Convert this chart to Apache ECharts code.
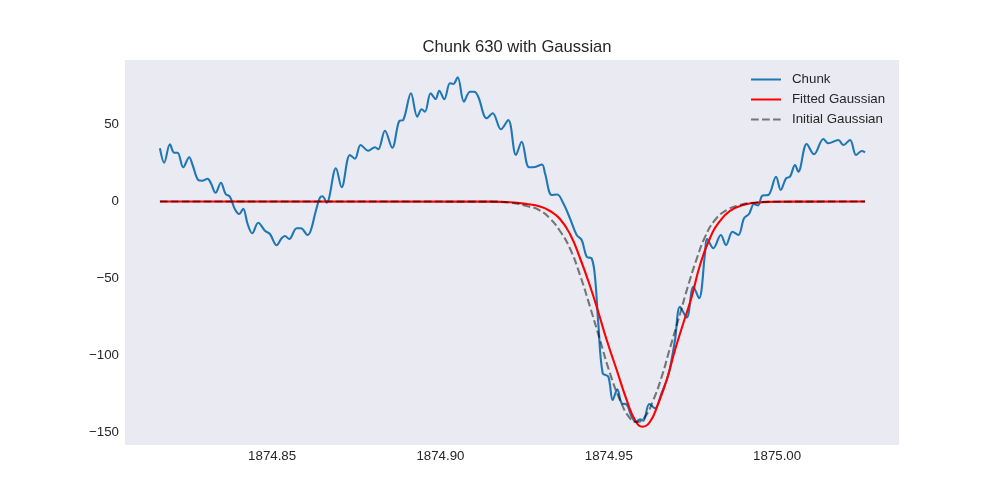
<!DOCTYPE html>
<html>
<head>
<meta charset="utf-8">
<script src="https://cdn.jsdelivr.net/npm/echarts@6/dist/echarts.min.js"></script>
<style>
  html, body { margin: 0; padding: 0; background: #fff; }
  #main { width: 1000px; height: 500px; }
</style>
</head>
<body>
<div id="main"></div>
<script>
// chunk 630
var chunkX = [
  1874.81667, 1874.81794, 1874.81964, 1874.82091, 1874.82192, 1874.82359, 1874.82537, 1874.82638,
  1874.82804, 1874.82923, 1874.83084, 1874.83182, 1874.83321, 1874.83479, 1874.83619, 1874.83746,
  1874.83895, 1874.84023, 1874.84141, 1874.84272, 1874.84409, 1874.84587, 1874.84786, 1874.84935,
  1874.85134, 1874.85282, 1874.85380, 1874.85508, 1874.85728, 1874.85856, 1874.86055, 1874.86153,
  1874.86292, 1874.86420, 1874.86494, 1874.86619, 1874.86895, 1874.87065, 1874.87311, 1874.87460,
  1874.87629, 1874.87855, 1874.88054, 1874.88152, 1874.88351, 1874.88568, 1874.88776, 1874.88895,
  1874.89124, 1874.89311, 1874.89442, 1874.89540, 1874.89709, 1874.89857, 1874.89964, 1874.90113,
  1874.90282, 1874.90380, 1874.90511, 1874.90698, 1874.90876, 1874.91004, 1874.91123, 1874.91373,
  1874.91551, 1874.91797, 1874.92014, 1874.92243, 1874.92412, 1874.92629, 1874.92808, 1874.93016,
  1874.93105, 1874.93304, 1874.93470, 1874.93648, 1874.93847, 1874.94046, 1874.94195, 1874.94344,
  1874.94492, 1874.94590, 1874.94688, 1874.94819, 1874.94985, 1874.95116, 1874.95253, 1874.95383,
  1874.95532, 1874.95680, 1874.95808, 1874.95927, 1874.96025, 1874.96203, 1874.96373, 1874.96572,
  1874.96720, 1874.96818, 1874.96967, 1874.97115, 1874.97314, 1874.97511, 1874.97680, 1874.97858,
  1874.97918, 1874.98105, 1874.98328, 1874.98482, 1874.98675, 1874.98847, 1874.99017, 1874.99165,
  1874.99314, 1874.99433, 1874.99566, 1874.99739, 1874.99967, 1875.00107, 1875.00264, 1875.00383,
  1875.00532, 1875.00630, 1875.00879, 1875.01096, 1875.01373, 1875.01521, 1875.01818, 1875.01967,
  1875.02166, 1875.02344, 1875.02513, 1875.02612
];
var chunkY = [
  34.63, 25.26, 37.24, 31.77, 31.77, 22.26, 28.77, 23.76,
  14.00, 13.54, 14.84, 11.85, 5.73, 12.24, 4.88, 3.12,
  -5.08, -8.14, -4.69, -14.65, -20.70, -13.80, -19.01, -21.16,
  -28.51, -23.96, -22.46, -24.41, -17.45, -17.45, -21.81, -18.55,
  -6.64, 2.47, 3.39, -0.78, 21.61, 9.24, 30.27, 27.86,
  36.78, 33.07, 35.28, 33.98, 46.09, 35.02, 52.41, 53.06,
  70.44, 55.20, 60.02, 58.46, 70.44, 66.73, 72.13, 66.53,
  76.95, 76.49, 80.85, 64.97, 71.48, 71.48, 68.22, 54.16,
  57.42, 47.00, 53.06, 30.27, 38.93, 22.26, 22.46, 24.09,
  18.36, 4.23, 4.56, -1.17, -10.94, -21.81, -25.06, -35.94,
  -37.11, -48.96, -79.29, -111.84, -114.06, -129.22, -122.26, -131.37,
  -132.15, -140.10, -143.35, -141.79, -142.70, -131.83, -134.63, -124.47,
  -116.20, -108.39, -90.16, -68.49, -75.52, -55.47, -63.02, -33.72,
  -24.41, -30.47, -21.81, -28.32, -19.66, -21.81, -10.94, -8.14,
  -1.63, -2.60, 3.91, 4.23, 16.14, 7.49, 15.10, 16.14,
  23.76, 19.40, 37.43, 30.73, 40.69, 37.89, 40.04, 36.78,
  40.04, 30.27, 32.88, 32.03
];

// fitted gaussian (red)
var fittedX = [
  1874.81667, 1874.91471, 1874.92065, 1874.92561, 1874.92956, 1874.93253, 1874.93550, 1874.93847,
  1874.94144, 1874.94442, 1874.94688, 1874.94938, 1874.95235, 1874.95532, 1874.95778, 1874.96007,
  1874.96224, 1874.96471, 1874.96720, 1874.96967, 1874.97213, 1874.97463, 1874.97710, 1874.98007,
  1874.98304, 1874.98601, 1874.98996, 1874.99394, 1874.99887, 1875.00383, 1875.02612
];
var fittedY = [
  0, -0.07, -0.46, -1.63, -3.26, -6.18, -11.39, -21.16,
  -36.78, -55.01, -71.94, -90.16, -109.69, -129.22, -142.24, -146.6,
  -143.35, -131.37, -116.20, -96.67, -79.29, -61.98, -41.34, -23.76,
  -12.69, -6.18, -2.28, -0.78, -0.20, -0.07, 0
];

// initial gaussian (grey dashed)
var initialX = [
  1874.81667, 1874.91471, 1874.92065, 1874.92561, 1874.92956, 1874.93253, 1874.93550, 1874.93847,
  1874.94144, 1874.94442, 1874.94739, 1874.95036, 1874.95333, 1874.95630, 1874.95853, 1874.96076,
  1874.96322, 1874.96572, 1874.96818, 1874.97115, 1874.97353, 1874.97620, 1874.97858, 1874.98155,
  1874.98503, 1874.98898, 1874.99293, 1874.99789, 1875.02612
];
var initialY = [
  0, -0.07, -0.78, -2.93, -5.86, -11.07, -19.20, -30.60,
  -47.85, -68.49, -90.16, -111.84, -129.22, -141.14, -143.55, -140.10,
  -129.22, -114.06, -95.37, -73.24, -55.01, -36.78, -23.11, -12.04,
  -5.53, -2.28, -0.78, -0.20, 0
];

function pairs(xs, ys) {
  return xs.map(function (x, i) { return [x, ys[i]]; });
}

var font = 'Liberation Sans';
var txt = '#262626';

var myChart = echarts.init(document.getElementById('main'));

var option = {
  animation: false,
  backgroundColor: '#ffffff',
  title: {
    text: 'Chunk 630 with Gaussian',
    left: 512,
    textAlign: 'center',
    top: 34,
    textStyle: { fontFamily: font, fontSize: 16.6, fontWeight: 'normal', color: txt }
  },
  legend: {
    orient: 'vertical',
    left: 750,
    top: 73,
    padding: 0,
    itemWidth: 30,
    itemHeight: 14,
    itemGap: 7,
    itemStyle: { opacity: 0 },
    textStyle: { fontFamily: font, fontSize: 13.3, color: txt, padding: [0, 0, 0, 6] },
    data: ['Chunk', 'Fitted Gaussian', 'Initial Gaussian']
  },
  grid: {
    left: 125, top: 60, width: 774, height: 385,
    show: true, backgroundColor: '#EAEAF2', borderWidth: 0
  },
  xAxis: {
    type: 'value',
    min: 1874.8063,
    max: 1875.0362,
    splitNumber: 5,
    axisLine: { show: false },
    axisTick: { show: false },
    splitLine: { show: false },
    axisLabel: {
      showMinLabel: false, showMaxLabel: false,
      margin: 5,
      fontFamily: font, fontSize: 13.3, color: txt,
      formatter: function (v) { return v.toFixed(2); }
    }
  },
  yAxis: {
    type: 'value',
    min: -158.5,
    max: 92.1,
    splitNumber: 5,
    axisLine: { show: false },
    axisTick: { show: false },
    splitLine: { show: false },
    axisLabel: {
      showMinLabel: false, showMaxLabel: false,
      margin: 6,
      fontFamily: font, fontSize: 13.3, color: txt,
      formatter: function (v) { return String(Math.round(v)).replace('-', '\u2212'); }
    }
  },
  series: [
    {
      name: 'Chunk',
      type: 'line',
      symbol: 'none',
      smooth: 0.35,
      data: pairs(chunkX, chunkY),
      itemStyle: { color: '#1f77b4' },
      lineStyle: { color: '#1f77b4', width: 2.1 }
    },
    {
      name: 'Fitted Gaussian',
      type: 'line',
      symbol: 'none',
      smooth: 0.5,
      data: pairs(fittedX, fittedY),
      itemStyle: { color: '#ff0000' },
      lineStyle: { color: '#ff0000', width: 2.1 }
    },
    {
      name: 'Initial Gaussian',
      type: 'line',
      symbol: 'none',
      smooth: 0.5,
      data: pairs(initialX, initialY),
      itemStyle: { color: '#7f7f7f' },
      lineStyle: { color: '#000000', opacity: 0.5, width: 2.1, type: [7.7, 3.3] }
    }
  ]
};

myChart.setOption(option);
</script>
</body>
</html>
